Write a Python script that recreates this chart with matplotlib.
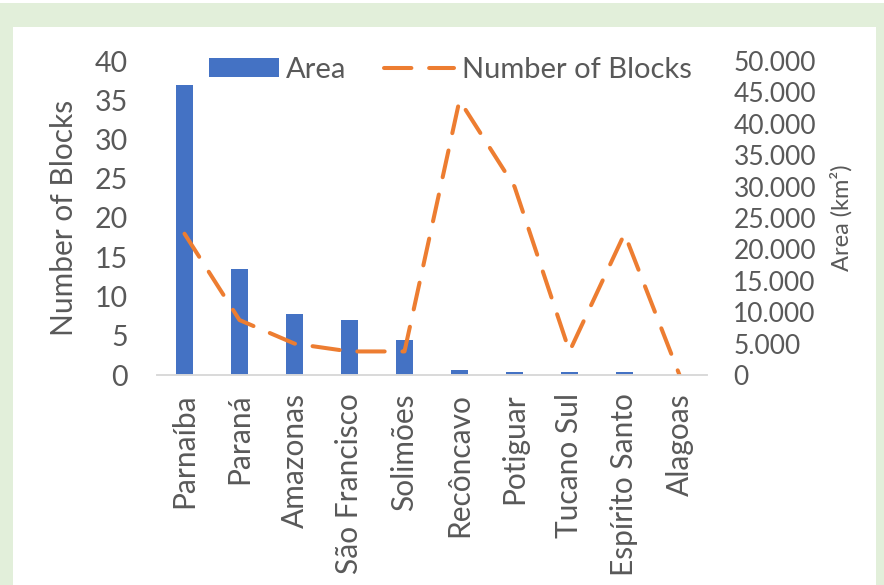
import matplotlib.pyplot as plt
import matplotlib.ticker as mticker
from matplotlib.patches import Patch
from matplotlib.lines import Line2D
import numpy as np

basins = ['Parnaíba', 'Paraná', 'Amazonas', 'São Francisco', 'Solimões',
          'Recôncavo', 'Potiguar', 'Tucano Sul', 'Espírito Santo', 'Alagoas']
area_km2 = [46200, 16900, 9700, 8700, 5600, 800, 500, 470, 400, 0]
n_blocks = [18, 7, 4, 3, 3, 35, 24, 3, 18, 0]

blue = '#4472c4'
orange = '#ed7d31'
grey = '#595959'
dash = (0, (6.8, 4.4))
plt.rcParams['font.family'] = ['Lato', 'DejaVu Sans']

fig = plt.figure(figsize=(8.84, 5.85), dpi=100, facecolor='white')
# light green frame round the white panel
fig.patches.append(plt.Rectangle((0, 0), 1, 1 - 3 / 585, transform=fig.transFigure,
                                 facecolor='#e2efda', edgecolor='none', zorder=-2))
fig.patches.append(plt.Rectangle((13 / 884, 0), (876 - 13) / 884, (585 - 27) / 585,
                                 transform=fig.transFigure, facecolor='white',
                                 edgecolor='none', zorder=-1))

ax = fig.add_axes([157 / 884, 210 / 585, 550 / 884, 314 / 585])
ax2 = ax.twinx()
x = np.arange(len(basins))

ax2.bar(x, area_km2, width=0.31, color=blue)
ax.plot(x, n_blocks, color=orange, lw=2.9, linestyle=dash, dash_capstyle='round')

# keep the line above the bars
ax.set_zorder(ax2.get_zorder() + 1)
ax.patch.set_visible(False)

ax.set_xlim(-0.5, len(basins) - 0.5)
ax.set_ylim(0, 40)
ax2.set_ylim(0, 50000)
ax.set_yticks(np.arange(0, 41, 5))
ax2.set_yticks(np.arange(0, 50001, 5000))
ax2.yaxis.set_major_formatter(mticker.FuncFormatter(lambda v, p: f"{int(v):,}".replace(',', '.')))

ax.set_xticks(x)
ax.set_xticklabels(basins, rotation=90, fontsize=21.5, color=grey)
ax.tick_params(axis='x', length=0, pad=13)
ax.tick_params(axis='y', length=0, labelsize=20.5, labelcolor=grey, pad=21)
ax2.tick_params(axis='y', length=0, labelsize=19, labelcolor=grey, pad=19)

for a in (ax, ax2):
    for s in ('top', 'left', 'right'):
        a.spines[s].set_visible(False)
    a.spines['bottom'].set_color('#d9d9d9')
    a.spines['bottom'].set_linewidth(1.2)

ax.set_ylabel('Number of Blocks', fontsize=21.5, color=grey, labelpad=12)
ax2.set_ylabel('Area (km²)', fontsize=17, color=grey, labelpad=10)

handles = [Patch(facecolor=blue, edgecolor='none'),
           Line2D([], [], color=orange, lw=2.9, linestyle=dash, dash_capstyle='round')]
ax.legend(handles, ['Area', 'Number of Blocks'], loc='center',
          bbox_to_anchor=(0.533, 0.971), ncol=2, frameon=False, fontsize=21,
          labelcolor=grey, handlelength=2.4, handleheight=0.62,
          columnspacing=1.3, handletextpad=0.25, borderpad=0, borderaxespad=0)

fig.savefig('out.png', dpi=100)
